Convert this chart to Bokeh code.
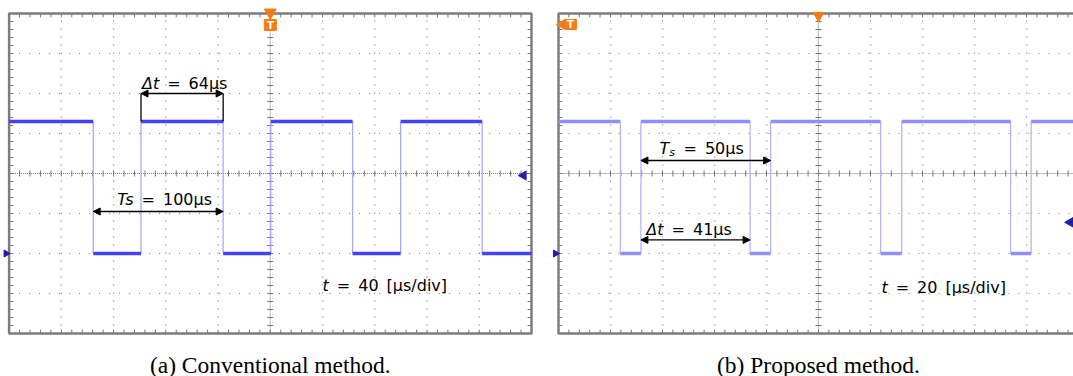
import numpy as np
from bokeh.plotting import figure
from bokeh.models import Range1d, Arrow, NormalHead
from bokeh.layouts import row
from bokeh.core.properties import value
from bokeh.embed import file_html
from bokeh.resources import INLINE

# ---------------- data ----------------
n_hdiv = 10
n_vdiv = 8
us_per_div_a = 40          # t = 40 us/div
us_per_div_b = 20          # t = 20 us/div
hi_level = 1.3             # divisions
lo_level = -2.0
falls_a = [64.4, 163.9, 263.0, 362.2]
rises_a = [101.0, 200.4, 299.8]
falls_b = [23.8, 73.7, 123.9, 173.9]
rises_b = [31.7, 81.6, 132.0, 181.8]
caption_a = "(a) Conventional method."
caption_b = "(b) Proposed method."
SP = "\u2002"
scale_a = ["t", SP + "=" + SP + "40" + SP + "[µs/div]"]
scale_b = ["t", SP + "=" + SP + "20" + SP + "[µs/div]"]
dt_a = ["Δt", SP + "=" + SP + "64µs"]
ts_a = ["Ts", SP + "=" + SP + "100µs"]
dt_b = ["Δt", SP + "=" + SP + "41µs"]
ts_b = ["T", "s", SP + "=" + SP + "50µs"]

PX_Y = 40.0  # px per vertical division
TOP_PAD = 13
BOT_PAD = 43
H = 376
FONT = value("DejaVu Sans")
FS = "16px"


def make_panel(width, left_pad, px_per_div, us_per_div):
    upp = us_per_div / px_per_div
    x0 = -left_pad * upp
    x1 = x0 + width * upp
    y1 = n_vdiv / 2 + TOP_PAD / PX_Y
    y0 = -n_vdiv / 2 - BOT_PAD / PX_Y
    p = figure(width=width, height=H, x_range=Range1d(x0, x1), y_range=Range1d(y0, y1),
               output_backend="svg", toolbar_location=None, min_border=0,
               x_axis_location=None, y_axis_location=None, outline_line_color=None,
               background_fill_color="white", border_fill_color="white")
    p.grid.visible = False
    T = n_hdiv * us_per_div
    half = n_vdiv / 2
    gcol = "#767676"
    # dotted grid
    vx = [k * us_per_div for k in range(1, n_hdiv) if k != n_hdiv // 2]
    p.segment(x0=vx, y0=-half, x1=vx, y1=half, line_color=gcol, line_width=1.2, line_dash="1 7")
    hy = [k for k in range(-int(half) + 1, int(half)) if k != 0]
    p.segment(x0=0, y0=hy, x1=T, y1=hy, line_color=gcol, line_width=1.2, line_dash="1 9")
    # centre cross
    p.segment(x0=[T / 2], y0=[-half], x1=[T / 2], y1=[half], line_color=gcol, line_width=1, line_dash="1 1")
    p.segment(x0=[0], y0=[0], x1=[T], y1=[0], line_color=gcol, line_width=1, line_dash="1 1")
    mx = np.arange(1, n_hdiv * 5) * us_per_div / 5
    my = np.arange(-int(half) * 5 + 1, int(half) * 5) / 5
    tick_y = 3 / PX_Y
    tick_x = 3 * upp
    p.segment(x0=mx, y0=-tick_y, x1=mx, y1=tick_y, line_color=gcol, line_width=1)
    p.segment(x0=T / 2 - tick_x, y0=my, x1=T / 2 + tick_x, y1=my, line_color=gcol, line_width=1)
    # border ticks
    p.segment(x0=mx, y0=half, x1=mx, y1=half - 1.3 * tick_y, line_color=gcol, line_width=1)
    p.segment(x0=mx, y0=-half, x1=mx, y1=-half + 1.3 * tick_y, line_color=gcol, line_width=1)
    p.segment(x0=0, y0=my, x1=1.3 * tick_x, y1=my, line_color=gcol, line_width=1)
    p.segment(x0=T, y0=my, x1=T - 1.3 * tick_x, y1=my, line_color=gcol, line_width=1)
    # frame
    p.quad(left=[0], right=[T], bottom=[-half], top=[half], fill_color=None,
           line_color="#7c7c7c", line_width=2.5)
    return p, T, upp


def trace(p, falls, rises, T, color_band, color_edge, band_w):
    events = sorted([(t, "f") for t in falls] + [(t, "r") for t in rises])
    level = hi_level
    xs0, xs1, ys = [], [], []
    x_prev = 0
    for t, kind in events:
        xs0.append(x_prev); xs1.append(t); ys.append(level)
        level = lo_level if kind == "f" else hi_level
        x_prev = t
    xs0.append(x_prev); xs1.append(T); ys.append(level)
    edges = [e[0] for e in events]
    p.segment(x0=edges, y0=lo_level, x1=edges, y1=hi_level, line_color=color_edge, line_width=1.3)
    p.segment(x0=xs0, y0=ys, x1=xs1, y1=ys, line_color=color_band, line_width=band_w)


def dim_arrow(p, xa, xb, y):
    p.add_layout(Arrow(x_start=xa, y_start=y, x_end=xb, y_end=y,
                       start=NormalHead(size=7, fill_color="black", line_color="black"),
                       end=NormalHead(size=7, fill_color="black", line_color="black"),
                       line_color="black", line_width=1.3))


def two_part(p, x, y, parts, size=FS):
    p.text(x=[x], y=[y], text=[parts[0]], text_font=FONT, text_font_size=size,
           text_font_style="italic", text_align="right", text_baseline="middle", text_color="black")
    p.text(x=[x], y=[y], text=[parts[1]], text_font=FONT, text_font_size=size,
           text_align="left", text_baseline="middle", text_color="black")


def caption(p, T, txt):
    p.text(x=[T / 2], y=[(173 - 364) / PX_Y], text=[txt], text_font=value("Liberation Serif"),
           text_font_size="23.5px", text_align="center", text_baseline="alphabetic", text_color="black")


ORANGE = "#f57c12"
NAVY = "#1f1fa8"

# ---------------- panel (a) ----------------
pa, Ta, upp_a = make_panel(545, 8.6, 52.24, us_per_div_a)
trace(pa, falls_a, rises_a, Ta, "#4343ff", "#a8a8ff", 3.5)
dt_y_a = 2.0
pa.segment(x0=[rises_a[0], falls_a[1]], y0=dt_y_a, x1=[rises_a[0], falls_a[1]], y1=hi_level,
           line_color="black", line_width=1.3)
dim_arrow(pa, rises_a[0], falls_a[1], dt_y_a)
dim_arrow(pa, falls_a[0], falls_a[1], -0.95)
two_part(pa, 114.9, 2.24, dt_a)
two_part(pa, 95.3, -0.66, ts_a)
two_part(pa, 244.8, -2.8, scale_a)
caption(pa, Ta, caption_a)
# markers
pa.scatter(x=[Ta / 2], y=[4 + 1 / PX_Y], marker="inverted_triangle", size=12, fill_color=ORANGE, line_color=ORANGE)
pa.rect(x=[Ta / 2], y=[(173 - 24.5) / PX_Y], width=12 * upp_a, height=11 / PX_Y, fill_color=ORANGE,
        line_color=ORANGE)
pa.text(x=[Ta / 2], y=[(173 - 24.5) / PX_Y], text=["T"], text_font=FONT, text_font_size="10px",
        text_font_style="bold", text_color="white", text_align="center", text_baseline="middle")
pa.scatter(x=[Ta - 8 * upp_a], y=[-0.05], marker="triangle", angle=np.pi / 2, size=9,
           fill_color=NAVY, line_color=NAVY)
pa.scatter(x=[-3 * upp_a], y=[lo_level], marker="triangle", angle=-np.pi / 2, size=7,
           fill_color=NAVY, line_color=NAVY)

# ---------------- panel (b) ----------------
pb, Tb, upp_b = make_panel(528, 13, 52.0, us_per_div_b)
trace(pb, falls_b, rises_b, Tb, "#8e8eff", "#b4b4ff", 3.5)
dim_arrow(pb, rises_b[0], rises_b[1], 0.325)
dim_arrow(pb, rises_b[0], falls_b[1], -1.66)
# T_s label
pb.text(x=[42.6], y=[0.625], text=[ts_b[0]], text_font=FONT, text_font_size=FS,
        text_font_style="italic", text_align="right", text_baseline="middle", text_color="black")
pb.text(x=[42.6], y=[0.625 - 4 / PX_Y], text=[ts_b[1]], text_font=FONT, text_font_size="11px",
        text_font_style="italic", text_align="left", text_baseline="middle", text_color="black")
pb.text(x=[45.0], y=[0.625], text=[ts_b[2]], text_font=FONT, text_font_size=FS,
        text_align="left", text_baseline="middle", text_color="black")
two_part(pb, 40.4, -1.41, dt_b)
two_part(pb, 126.6, -2.84, scale_b)
caption(pb, Tb, caption_b)
pb.scatter(x=[Tb / 2], y=[4 - 2 / PX_Y], marker="inverted_triangle", size=11, fill_color=ORANGE, line_color=ORANGE)
pb.scatter(x=[3 * upp_b], y=[(173 - 24) / PX_Y], marker="triangle", angle=np.pi / 2, size=9,
           fill_color=ORANGE, line_color=ORANGE)
pb.rect(x=[4.6], y=[(173 - 24) / PX_Y], width=12 * upp_b, height=10 / PX_Y, fill_color=ORANGE,
        line_color=ORANGE)
pb.text(x=[4.6], y=[(173 - 24) / PX_Y], text=["T"], text_font=FONT, text_font_size="10px",
        text_font_style="bold", text_color="white", text_align="center", text_baseline="middle")
pb.scatter(x=[(1070 - 558) * upp_b], y=[-1.22], marker="triangle", angle=np.pi / 2, size=10,
           fill_color=NAVY, line_color=NAVY)
pb.scatter(x=[-3 * upp_b], y=[lo_level], marker="triangle", angle=-np.pi / 2, size=7,
           fill_color=NAVY, line_color=NAVY)

layout = row(pa, pb, spacing=0)
open("out.html", "w").write(file_html(layout, INLINE))
